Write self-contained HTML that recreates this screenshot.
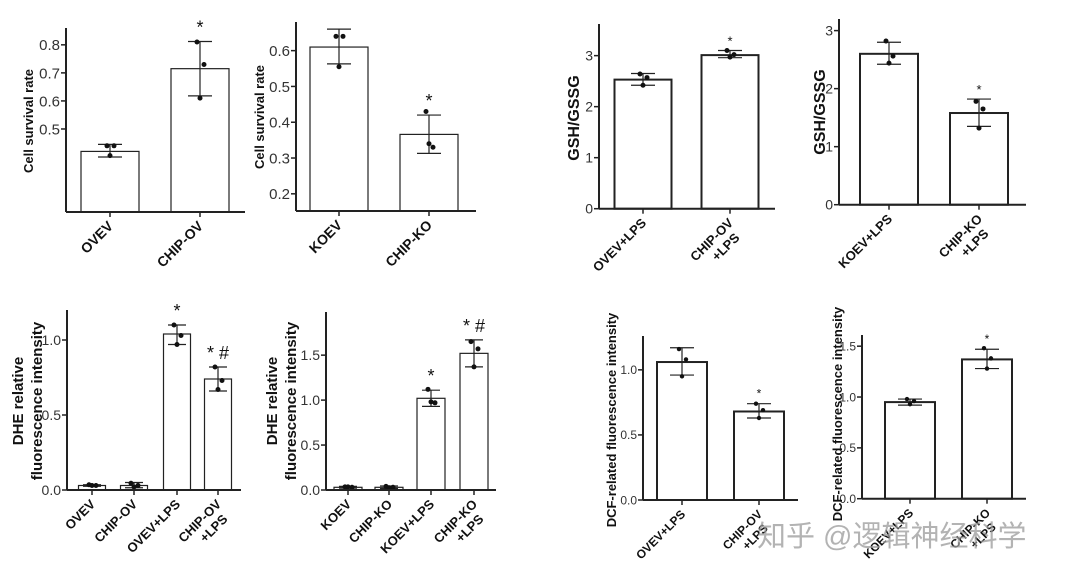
<!DOCTYPE html>
<html><head><meta charset="utf-8">
<style>
html,body{margin:0;padding:0;background:#fff;}
svg{display:block;font-family:"Liberation Sans",Arial,sans-serif;}
.wm{font-family:"Liberation Sans","Noto Sans CJK SC",sans-serif;}
</style></head>
<body>
<svg id="fig" width="1080" height="579" viewBox="0 0 1080 579">
<text class="wm" x="757" y="546" font-size="29" fill="#9a9a9a" fill-opacity="0.75">知乎 @逻辑神经科学</text>
</svg>
<script>
// ---- data per panel ----
const catsA = ["OVEV","CHIP-OV"];
const valsA = [0.42,0.715];
const errHiA = [0.445,0.812];
const errLoA = [0.40,0.618];
const ptsA = [[0.44,0.44,0.405],[0.81,0.73,0.61]];
const sigA = ["","*"];
const ticksA = [0.5,0.6,0.7,0.8];

const catsB = ["KOEV","CHIP-KO"];
const valsB = [0.61,0.366];
const errHiB = [0.66,0.42];
const errLoB = [0.563,0.313];
const ptsB = [[0.64,0.64,0.555],[0.43,0.33,0.34]];
const sigB = ["","*"];
const ticksB = [0.2,0.3,0.4,0.5,0.6];

const catsC = ["OVEV+LPS","CHIP-OV|+LPS"];
const valsC = [2.53,3.01];
const errHiC = [2.65,3.1];
const errLoC = [2.42,2.96];
const ptsC = [[2.64,2.57,2.42],[3.1,3.02,2.97]];
const sigC = ["","*"];
const ticksC = [0,1,2,3];

const catsD = ["KOEV+LPS","CHIP-KO|+LPS"];
const valsD = [2.6,1.58];
const errHiD = [2.8,1.82];
const errLoD = [2.42,1.35];
const ptsD = [[2.82,2.56,2.44],[1.78,1.65,1.32]];
const sigD = ["","*"];
const ticksD = [0,1,2,3];

const catsE = ["OVEV","CHIP-OV","OVEV+LPS","CHIP-OV|+LPS"];
const valsE = [0.03,0.03,1.04,0.74];
const errHiE = [0.035,0.05,1.10,0.82];
const errLoE = [0.025,0.015,0.97,0.66];
const ptsE = [[0.035,0.03,0.03],[0.045,0.03,0.02],[1.1,1.03,0.97],[0.82,0.73,0.67]];
const sigE = ["","","*","* #"];
const ticksE = [0,0.5,1.0];

const catsF = ["KOEV","CHIP-KO","KOEV+LPS","CHIP-KO|+LPS"];
const valsF = [0.03,0.03,1.02,1.52];
const errHiF = [0.04,0.045,1.11,1.67];
const errLoF = [0.02,0.015,0.93,1.37];
const ptsF = [[0.035,0.03,0.035],[0.04,0.03,0.025],[1.12,0.97,0.98],[1.65,1.57,1.37]];
const sigF = ["","","*","* #"];
const ticksF = [0,0.5,1.0,1.5];

const catsG = ["OVEV+LPS","CHIP-OV|+LPS"];
const valsG = [1.06,0.68];
const errHiG = [1.17,0.74];
const errLoG = [0.96,0.63];
const ptsG = [[1.16,1.08,0.95],[0.74,0.69,0.63]];
const sigG = ["","*"];
const ticksG = [0,0.5,1.0];

const catsH = ["KOEV+LPS","CHIP-KO|+LPS"];
const valsH = [0.95,1.37];
const errHiH = [0.98,1.47];
const errLoH = [0.92,1.28];
const ptsH = [[0.98,0.96,0.93],[1.48,1.38,1.28]];
const sigH = ["","*"];
const ticksH = [0,0.5,1.0,1.5];

const NS="http://www.w3.org/2000/svg";
const svg=document.getElementById('fig');
function mk(tag,attrs,parent){const e=document.createElementNS(NS,tag);for(const k in attrs)e.setAttribute(k,attrs[k]);(parent||svg).appendChild(e);return e;}

function panel(p){
  const g=mk('g',{});
  
  
  const y=v=>p.y0-(v-p.vmin)/(p.vmax-p.vmin)*(p.y0-p.ytop);
  p.vals.forEach((v,i)=>{
    const c=p.cx[i];
    const r=mk('rect',{x:c-p.bw/2,y:y(v),width:p.bw,height:p.y0-y(v),fill:'#fff',stroke:'#222','stroke-width':p.sw},g);
    
    
    const eb=mk('g',{stroke:'#222','stroke-width':1.2},g);
    
    
    mk('line',{x1:c,x2:c,y1:y(p.hi[i]),y2:y(p.lo[i])},eb);
    mk('line',{x1:c-p.cap,x2:c+p.cap,y1:y(p.hi[i]),y2:y(p.hi[i])},eb);
    mk('line',{x1:c-p.cap,x2:c+p.cap,y1:y(p.lo[i]),y2:y(p.lo[i])},eb);
    const offs=[-3,4,0];
    p.pts[i].forEach((pv,j)=>{
      const d=mk('circle',{cx:c+offs[j],cy:y(pv),r:p.pr,fill:'#111'},g);
      
      
    });
    if(p.sig[i]){
      const s=mk('text',{x:c,y:y(p.hi[i])-p.sigGap,'text-anchor':'middle','font-size':p.sigSize,fill:'#111'},g);
      s.textContent=p.sig[i];
      
      
    }
    mk('line',{x1:c,x2:c,y1:p.y0,y2:p.y0+5,stroke:'#222','stroke-width':1.5},g);
    const parts=p.cats[i].split('|');
    const lx=c+4, ly=p.y0+15;
    const t=mk('text',{x:lx,y:ly,'text-anchor':'end','font-size':p.lfs,'font-weight':'bold',fill:'#111',transform:`rotate(-45 ${lx} ${ly})`},g);
    
    
    parts.forEach((s,k)=>{const ts=mk('tspan',{x:lx-(k?6:0),dy:k?p.lfs+2:0},t);ts.textContent=s;});
  });
  const ax=mk('g',{stroke:'#222','stroke-width':p.aw},g);
  
  
  mk('line',{x1:p.x0,x2:p.x0,y1:p.ytop,y2:p.y0},ax);
  mk('line',{x1:p.x0,x2:p.xend,y1:p.y0,y2:p.y0},ax);
  p.ticks.forEach(tv=>{
    mk('line',{x1:p.x0-5,x2:p.x0,y1:y(tv),y2:y(tv),stroke:'#222','stroke-width':1.5},g);
    const t=mk('text',{x:p.x0-6,y:y(tv)+p.tfs*0.36,'text-anchor':'end','font-size':p.tfs,fill:'#333'},g);
    t.textContent=p.fmt(tv);
    
    
  });
  p.title.forEach((s,k)=>{
    const tx=p.tx+k*p.tgap, ty=p.ty;
    const t=mk('text',{x:tx,y:ty,'text-anchor':'middle','font-size':p.tsz,'font-weight':'bold',fill:'#111',transform:`rotate(-90 ${tx} ${ty})`},g);
    t.textContent=s;
    
    
  });
}
const f1=v=>v.toFixed(1), f0=v=>String(v);
const base={pad:0,cap:12,pr:2.5,sigGap:8,sigSize:18,sw:1.2,aw:2,lfs:12,tfs:14,tgap:19};

panel(Object.assign({},base,{name:'panel-cell-survival-ov',cats:catsA,vals:valsA,hi:errHiA,lo:errLoA,pts:ptsA,sig:sigA,ticks:ticksA,
 x0:66,xend:245,y0:212,ytop:28,vmin:0.204,vmax:0.86,cx:[110,200],bw:58,fmt:f1,lfs:14,tfs:15,title:['Cell survival rate'],tx:33,ty:121,tsz:13}));
panel(Object.assign({},base,{name:'panel-cell-survival-ko',cats:catsB,vals:valsB,hi:errHiB,lo:errLoB,pts:ptsB,sig:sigB,ticks:ticksB,
 x0:296,xend:476,y0:211,ytop:22,vmin:0.152,vmax:0.68,cx:[339,429],bw:58,fmt:f1,lfs:14,tfs:15,title:['Cell survival rate'],tx:264,ty:117,tsz:13}));
panel(Object.assign({},base,{name:'panel-gsh-ov',cats:catsC,vals:valsC,hi:errHiC,lo:errLoC,pts:ptsC,sig:sigC,ticks:ticksC,
 x0:599,xend:775,y0:208.7,ytop:24,vmin:0,vmax:3.62,cx:[643,730],bw:57,sw:2,sigSize:13,sigGap:5,lfs:13,tfs:14,fmt:f0,title:['GSH/GSSG'],tx:579,ty:118,tsz:16}));
panel(Object.assign({},base,{name:'panel-gsh-ko',cats:catsD,vals:valsD,hi:errHiD,lo:errLoD,pts:ptsD,sig:sigD,ticks:ticksD,
 x0:839,xend:1026,y0:204.7,ytop:19,vmin:0,vmax:3.2,cx:[889,979],bw:58,sw:2,sigSize:13,sigGap:5,lfs:13,tfs:14,fmt:f0,title:['GSH/GSSG'],tx:825,ty:112,tsz:16}));
panel(Object.assign({},base,{name:'panel-dhe-ov',cats:catsE,vals:valsE,hi:errHiE,lo:errLoE,pts:ptsE,sig:sigE,ticks:ticksE,
 x0:67,xend:241,y0:490,ytop:310,vmin:0,vmax:1.2,cx:[92,134,177,218],bw:27,cap:9,lfs:13,tfs:14,fmt:f1,title:['DHE relative','fluorescence intensity'],tx:23,ty:401,tsz:15}));
panel(Object.assign({},base,{name:'panel-dhe-ko',cats:catsF,vals:valsF,hi:errHiF,lo:errLoF,pts:ptsF,sig:sigF,ticks:ticksF,
 x0:326,xend:496,y0:490,ytop:312,vmin:0,vmax:1.98,cx:[348,389,431,474],bw:28,cap:9,lfs:13,tfs:14,fmt:f1,title:['DHE relative','fluorescence intensity'],tx:277,ty:401,tsz:15}));
panel(Object.assign({},base,{name:'panel-dcf-ov',cats:catsG,vals:valsG,hi:errHiG,lo:errLoG,pts:ptsG,sig:sigG,ticks:ticksG,
 x0:643,xend:798,y0:500,ytop:336,vmin:0,vmax:1.26,cx:[682,759],bw:50,sw:2,pr:2.2,sigSize:12,sigGap:6,lfs:12,tfs:12,fmt:f1,title:['DCF-related fluorescence intensity'],tx:616,ty:420,tsz:13}));
panel(Object.assign({},base,{name:'panel-dcf-ko',cats:catsH,vals:valsH,hi:errHiH,lo:errLoH,pts:ptsH,sig:sigH,ticks:ticksH,
 x0:862,xend:1026,y0:498.7,ytop:335,vmin:0,vmax:1.61,cx:[910,987],bw:50,sw:2,pr:2.2,sigSize:12,sigGap:6,lfs:12,tfs:12,fmt:f1,title:['DCF-related fluorescence intensity'],tx:842,ty:414,tsz:13}));
svg.appendChild(svg.querySelector('.wm'));
</script>
</body></html>
